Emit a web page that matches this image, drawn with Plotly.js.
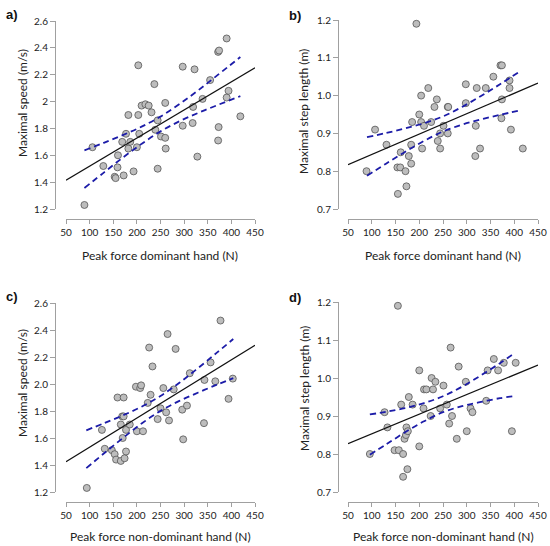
<!DOCTYPE html>
<html>
<head>
<meta charset="utf-8">
<script src="https://cdn.plot.ly/plotly-3.0.1.min.js"></script>
<style>html,body{margin:0;padding:0;background:#fff;}#chart{width:550px;height:546px;}</style>
</head>
<body>
<div id="chart"></div>
<script>
// ---- Panel a: dominant hand vs maximal speed ----
const aX = [89,106,129,153,155,159,160,169,172,177,182,182,186,193,200,203,203,205,210,218,225,231,237,239,244,244,251,260,260,261,297,297,318,319,322,328,339,355,372,372,374,373,390,390,394,419];
const aY = [1.23,1.66,1.52,1.44,1.43,1.51,1.60,1.70,1.45,1.76,1.90,1.65,1.70,1.48,1.66,1.90,2.27,1.76,1.97,1.98,1.97,1.92,2.13,1.79,1.86,1.50,1.74,1.99,1.73,1.65,2.26,1.82,1.84,1.96,2.24,1.59,2.02,2.16,1.71,2.37,2.38,1.81,2.47,2.03,2.08,1.89];
const aFitX = [50,450];
const aFitY = [1.415,2.251];
const aBandX = [89,130,170,210,250,290,330,370,419];
const aUpper = [1.637,1.693,1.750,1.813,1.888,1.981,2.084,2.195,2.332];
const aLower = [1.357,1.471,1.582,1.685,1.778,1.853,1.916,1.973,2.040];

// ---- Panel b: dominant hand vs maximal step length ----
const bX = [89,107,131,154,155,160,161,171,173,178,183,183,185,194,200,204,204,206,210,219,225,232,237,239,244,244,251,260,261,260,298,298,318,319,321,328,340,356,371,374,373,374,390,390,393,418];
const bY = [0.80,0.91,0.87,0.81,0.74,0.81,0.85,0.80,0.76,0.84,0.87,0.82,0.93,1.19,0.95,1.00,0.93,0.86,0.92,1.02,0.93,0.97,0.99,0.88,0.90,0.86,0.92,0.97,0.97,0.90,1.03,0.98,0.84,0.92,1.02,0.86,1.02,1.05,1.08,1.08,0.94,0.99,1.04,1.02,0.91,0.86];
const bFitX = [50,450];
const bFitY = [0.817,1.033];
const bBandX = [90,130,170,210,250,290,330,370,413];
const bUpper = [0.890,0.901,0.913,0.927,0.945,0.970,0.999,1.030,1.065];
const bLower = [0.788,0.820,0.851,0.880,0.905,0.923,0.937,0.949,0.961];

// ---- Panel c: non-dominant hand vs maximal speed ----
const cX = [94,126,132,147,153,156,159,166,166,169,170,172,172,174,177,177,185,198,200,207,209,213,223,226,229,233,244,250,256,262,265,268,278,282,296,298,306,312,342,343,356,366,377,394,403];
const cY = [1.23,1.66,1.52,1.51,1.48,1.44,1.90,1.70,1.43,1.76,1.60,1.90,1.76,1.45,1.50,1.66,1.70,1.98,1.65,1.97,1.99,1.65,1.86,2.27,1.92,2.13,1.74,1.82,1.97,1.79,2.37,1.73,1.96,2.26,1.81,1.59,1.84,2.08,1.71,2.03,2.16,2.02,2.47,1.89,2.04];
const cFitX = [50,450];
const cFitY = [1.424,2.287];
const cBandX = [93,130,170,210,250,290,330,370,404];
const cUpper = [1.657,1.709,1.767,1.832,1.911,2.009,2.119,2.234,2.333];
const cLower = [1.377,1.485,1.599,1.707,1.801,1.875,1.937,1.996,2.043];

// ---- Panel d: non-dominant hand vs maximal step length ----
const dX = [96,127,133,148,155,157,162,166,166,169,172,173,175,176,178,186,200,200,209,210,215,224,226,229,234,244,251,258,263,266,269,279,283,298,300,308,312,341,344,357,366,378,395,403];
const dY = [0.80,0.91,0.87,0.81,1.19,0.81,0.93,0.80,0.74,0.84,0.85,0.87,0.76,0.86,0.95,0.93,1.02,0.82,0.92,0.97,0.97,0.90,1.00,0.97,0.99,0.92,0.98,0.93,0.88,1.08,0.90,0.84,1.03,0.99,0.86,0.92,0.91,0.94,1.02,1.05,1.02,1.04,0.86,1.04];
const dFitX = [50,450];
const dFitY = [0.827,1.034];
const dBandX = [96,130,170,210,250,290,330,370,397];
const dUpper = [0.904,0.911,0.921,0.934,0.952,0.977,1.007,1.039,1.062];
const dLower = [0.798,0.825,0.857,0.886,0.910,0.926,0.937,0.947,0.952];

// ---- tick labels ----
const xTicks = [50,100,150,200,250,300,350,400,450];
const xTickText = ["50","100","150","200","250","300","350","400","450"];
const speedTicks = [1.2,1.4,1.6,1.8,2.0,2.2,2.4,2.6];
const speedTextA = ["1.2","1.4","1.6","1.8","2","2.2","2.4","2.6"];
const speedTextC = ["1.2","1.4","1.6","1.8","2.0","2.2","2.4","2.6"];
const stepTicks = [0.7,0.8,0.9,1.0,1.1,1.2];
const stepText = ["0.7","0.8","0.9","1.0","1.1","1.2"];

const xTitleDom = "Peak force dominant hand (N)";
const xTitleNon = "Peak force non-dominant hand (N)";
const ySpeed = "Maximal speed (m/s)";
const yStep = "Maximal step length (m)";
const panelLabels = ["a)","b)","c)","d)"];

const W = 550, H = 546;
const FONT = "Lato, 'Open Sans', sans-serif";
const AXC = "#a0a0a0";
const TXT = "#222222";

const panels = [
  {x:aX,y:aY,fx:aFitX,fy:aFitY,bx:aBandX,bu:aUpper,bl:aLower},
  {x:bX,y:bY,fx:bFitX,fy:bFitY,bx:bBandX,bu:bUpper,bl:bLower},
  {x:cX,y:cY,fx:cFitX,fy:cFitY,bx:cBandX,bu:cUpper,bl:cLower},
  {x:dX,y:dY,fx:dFitX,fy:dFitY,bx:dBandX,bu:dUpper,bl:dLower}
];

const traces = [];
panels.forEach((p,i)=>{
  const xa = i===0 ? 'x' : 'x'+(i+1);
  const ya = i===0 ? 'y' : 'y'+(i+1);
  traces.push({x:p.x,y:p.y,xaxis:xa,yaxis:ya,type:'scatter',mode:'markers',cliponaxis:false,
    marker:{size:7,color:'#bdbdbd',line:{color:'#555555',width:0.8}},hoverinfo:'skip',showlegend:false});
  traces.push({x:p.fx,y:p.fy,xaxis:xa,yaxis:ya,type:'scatter',mode:'lines',cliponaxis:false,
    line:{color:'#111111',width:1.2},hoverinfo:'skip',showlegend:false});
  traces.push({x:p.bx,y:p.bu,xaxis:xa,yaxis:ya,type:'scatter',mode:'lines',cliponaxis:false,line:{shape:'spline'},
    line:{color:'#1c1ca8',width:1.8,dash:'6px,4px',shape:'spline'},hoverinfo:'skip',showlegend:false});
  traces.push({x:p.bx,y:p.bl,xaxis:xa,yaxis:ya,type:'scatter',mode:'lines',cliponaxis:false,
    line:{color:'#1c1ca8',width:1.8,dash:'6px,4px',shape:'spline'},hoverinfo:'skip',showlegend:false});
});

function xAxis(dom, posPx){
  return {domain:[dom[0]/W, dom[1]/W], range:[50,450], anchor:'free', position:1-posPx/H,
    tickvals:xTicks, ticktext:xTickText, ticks:'outside', ticklen:4, tickwidth:1, tickcolor:AXC,
    showline:true, linecolor:AXC, linewidth:1, showgrid:false, zeroline:false,
    tickfont:{family:FONT,size:10,color:TXT}, fixedrange:true};
}
function yAxis(dom, posPx, range, vals, text){
  return {domain:[1-dom[1]/H, 1-dom[0]/H], range:range, anchor:'free', position:posPx/W,
    tickvals:vals, ticktext:text, ticks:'outside', ticklen:5, tickwidth:1, tickcolor:AXC,
    showline:true, linecolor:AXC, linewidth:1, showgrid:false, zeroline:false,
    tickfont:{family:FONT,size:10,color:TXT}, fixedrange:true};
}

const layout = {
  width:W, height:H, margin:{l:0,r:0,t:0,b:0}, paper_bgcolor:'#fff', plot_bgcolor:'rgba(0,0,0,0)',
  showlegend:false,
  xaxis:  xAxis([66,255], 219),
  xaxis2: xAxis([348,538], 219),
  xaxis3: xAxis([66,255], 502),
  xaxis4: xAxis([348,538], 502),
  yaxis:  yAxis([21,209], 55, [1.2,2.6], speedTicks, speedTextA),
  yaxis2: yAxis([20,209], 338, [0.7,1.2], stepTicks, stepText),
  yaxis3: yAxis([303,492], 55, [1.2,2.6], speedTicks, speedTextC),
  yaxis4: yAxis([302,492], 338, [0.7,1.2], stepTicks, stepText),
  annotations: [
    {text:xTitleDom, x:160/W, y:1-255/H},
    {text:xTitleDom, x:443/W, y:1-255/H},
    {text:xTitleNon, x:160/W, y:1-536/H},
    {text:xTitleNon, x:443/W, y:1-536/H},
    {text:ySpeed, x:22/W, y:1-103/H, textangle:-90},
    {text:yStep, x:304/W, y:1-112/H, textangle:-90},
    {text:ySpeed, x:22/W, y:1-383/H, textangle:-90},
    {text:yStep, x:304/W, y:1-389/H, textangle:-90}
  ].map(a=>Object.assign({xref:'paper',yref:'paper',showarrow:false,xanchor:'center',yanchor:'middle',
      font:{family:FONT,size:12,color:TXT}},a)).concat([
    {text:'<b>'+panelLabels[0]+'</b>', x:12/W, y:1-14/H},
    {text:'<b>'+panelLabels[1]+'</b>', x:295/W, y:1-15/H},
    {text:'<b>'+panelLabels[2]+'</b>', x:12/W, y:1-296/H},
    {text:'<b>'+panelLabels[3]+'</b>', x:295/W, y:1-297/H}
  ].map(a=>Object.assign({xref:'paper',yref:'paper',showarrow:false,xanchor:'center',yanchor:'middle',
      font:{family:"'Liberation Sans', Arial, sans-serif",size:13,color:'#111'}},a)))
};

Plotly.newPlot('chart', traces, layout, {staticPlot:true, displayModeBar:false});
</script>
</body>
</html>
